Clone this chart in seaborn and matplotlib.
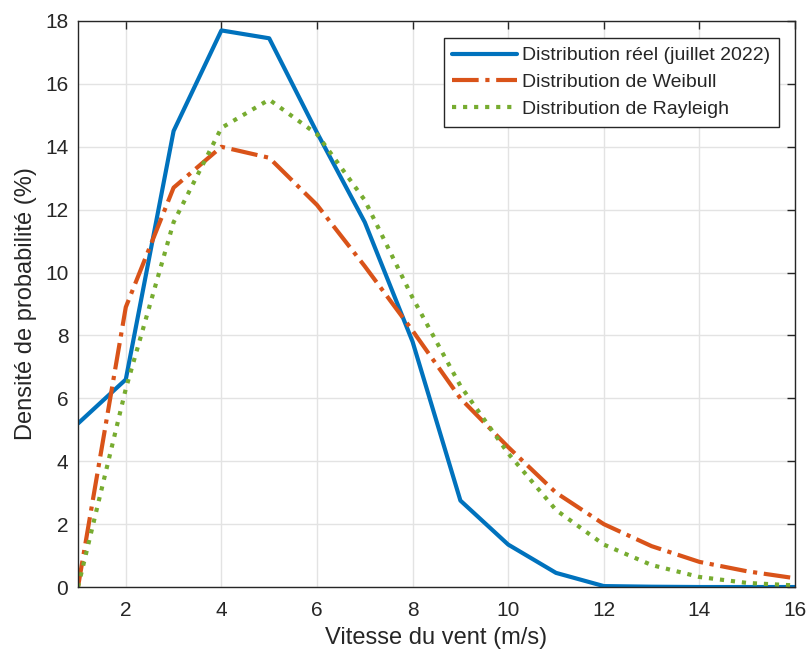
import numpy as np
import pandas as pd
import seaborn as sns
import matplotlib.pyplot as plt

# wind speed bins (m/s)
vitesse = [1, 2, 3, 4, 5, 6, 7, 8, 9, 10, 11, 12, 13, 14, 15, 16]

# probability densities (%)
reel = [5.2, 6.6, 14.5, 17.7, 17.45, 14.45, 11.6, 7.8, 2.75, 1.35, 0.45, 0.03, 0.01, 0.0, 0.0, 0.0]
weibull = [0.0, 8.9, 12.7, 14.0, 13.65, 12.15, 10.2, 8.15, 6.0, 4.45, 3.0, 2.0, 1.3, 0.8, 0.5, 0.28]
rayleigh = [0.0, 6.3, 11.6, 14.6, 15.5, 14.4, 12.3, 9.2, 6.4, 4.25, 2.45, 1.35, 0.7, 0.32, 0.13, 0.05]

labels = ['Distribution réel (juillet 2022)', 'Distribution de Weibull', 'Distribution de Rayleigh']
colors = ['#0072BD', '#D95319', '#77AC30']
styles = ['-', '-.', ':']

sns.set_style('white')
plt.rcParams['font.family'] = ['Liberation Sans', 'DejaVu Sans']

fig = plt.figure(figsize=(8.09, 6.54), dpi=100)
ax = fig.add_axes([0.0964, 0.1024, 0.8863, 0.8655])

for serie, lab, col, ls in zip([reel, weibull, rayleigh], labels, colors, styles):
    sns.lineplot(x=vitesse, y=serie, ax=ax, color=col, linestyle=ls, linewidth=3, label=lab)

ax.set_xlim(1, 16)
ax.set_ylim(0, 18)
ax.set_xticks(range(2, 17, 2))
ax.set_yticks(range(0, 19, 2))
ax.grid(True, color='#e3e3e3', linewidth=1)
ax.set_axisbelow(True)
for s in ax.spines.values():
    s.set_color('#262626')
    s.set_linewidth(1)
ax.tick_params(direction='in', top=True, right=True, length=6, width=1, colors='#262626',
               labelsize=15, labelcolor='#262626')
ax.tick_params(axis='x', pad=10)
ax.tick_params(axis='y', pad=7)

ax.set_xlabel('Vitesse du vent (m/s)', fontsize=17, color='#262626', labelpad=5)
ax.set_ylabel('Densité de probabilité (%)', fontsize=17, color='#262626', labelpad=6)

leg = ax.legend(loc='upper right', fontsize=14, frameon=True, fancybox=False,
                edgecolor='#262626', framealpha=1, handlelength=3.3, borderpad=0.45,
                labelspacing=0.48, handletextpad=0.3, borderaxespad=0,
                bbox_to_anchor=(0.978, 0.970))
leg.get_frame().set_linewidth(1)

fig.savefig('out.png', dpi=100)
